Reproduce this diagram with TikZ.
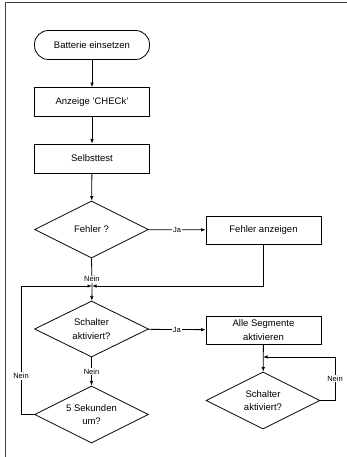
\documentclass[tikz,border=0pt]{standalone}
\usepackage{fontspec}
\setmainfont{Liberation Sans}
\usetikzlibrary{shapes.geometric,arrows.meta}

\begin{document}
\begin{tikzpicture}[x=1pt,y=-1pt,
  base/.style={draw, line width=0.8pt, font=\fontsize{9.5}{13.5}\selectfont, align=center, inner sep=0pt},
  proc/.style={base, rectangle, minimum width=115pt, minimum height=29pt},
  term/.style={proc, rounded corners=14pt},
  decide/.style={base, diamond, aspect=2, minimum width=114pt, minimum height=57pt},
  flow/.style={line width=0.8pt, -{Latex[length=4.5pt,width=3.5pt]}},
  wire/.style={line width=0.8pt},
  lbl/.style={font=\fontsize{7.5}{9}\selectfont, fill=white, inner sep=0.8pt}
]
\useasboundingbox (0,0) rectangle (347,457);
% page frame
\draw[line width=1.3pt, black!75] (5.5,457) -- (5.5,2.5) -- (347,2.5);

% main column
\node[term]   (start)   at (92,45)    {Batterie einsetzen};
\node[proc]   (check)   at (92,102)   {Anzeige 'CHECk'};
\node[proc]   (self)    at (92,158.5) {Selbsttest};
\node[decide] (err)     at (91.5,229.5) {Fehler ?};
\node[proc, minimum height=28pt] (errshow) at (263.5,230) {Fehler anzeigen};
\coordinate   (j1)      at (92,286);
\node[decide, minimum height=56pt] (sw1) at (91.5,329) {Schalter\\aktiviert?};
\node[proc, minimum height=28pt]   (seg) at (263.5,330) {Alle Segmente\\aktivieren};
\node[decide] (five)    at (91.5,414.5) {5 Sekunden\\um?};
\node[decide] (sw2)     at (263,400.5) {Schalter\\aktiviert?};
\coordinate   (j2)      at (263,357);

% loop corners
\coordinate (l1) at (21,414.5);
\coordinate (l2) at (21,286);
\coordinate (r1) at (335,400.5);
\coordinate (r2) at (335,357);

% connectors
\draw[flow] (start) -- (check);
\draw[flow] (check) -- (self);
\draw[flow] (self) -- (err);
\draw[flow] (err) -- node[lbl]{Ja} (errshow);
\draw[wire] (err.south) -- node[lbl, pos=0.75]{Nein} (j1);
\draw[flow] (errshow.south) |- (j1);
\draw[flow] (five.west) -- (l1) -- node[lbl, pos=0.3]{Nein} (l2) -- (j1);
\draw[flow] (j1) -- (sw1);
\draw[flow] (sw1) -- node[lbl]{Ja} (seg);
\draw[flow] (sw1) -- node[lbl]{Nein} (five);
\draw[flow] (seg) -- (sw2);
\draw[flow] (sw2.east) -- (r1) -- node[lbl]{Nein} (r2) -- (j2);
\end{tikzpicture}
\end{document}
